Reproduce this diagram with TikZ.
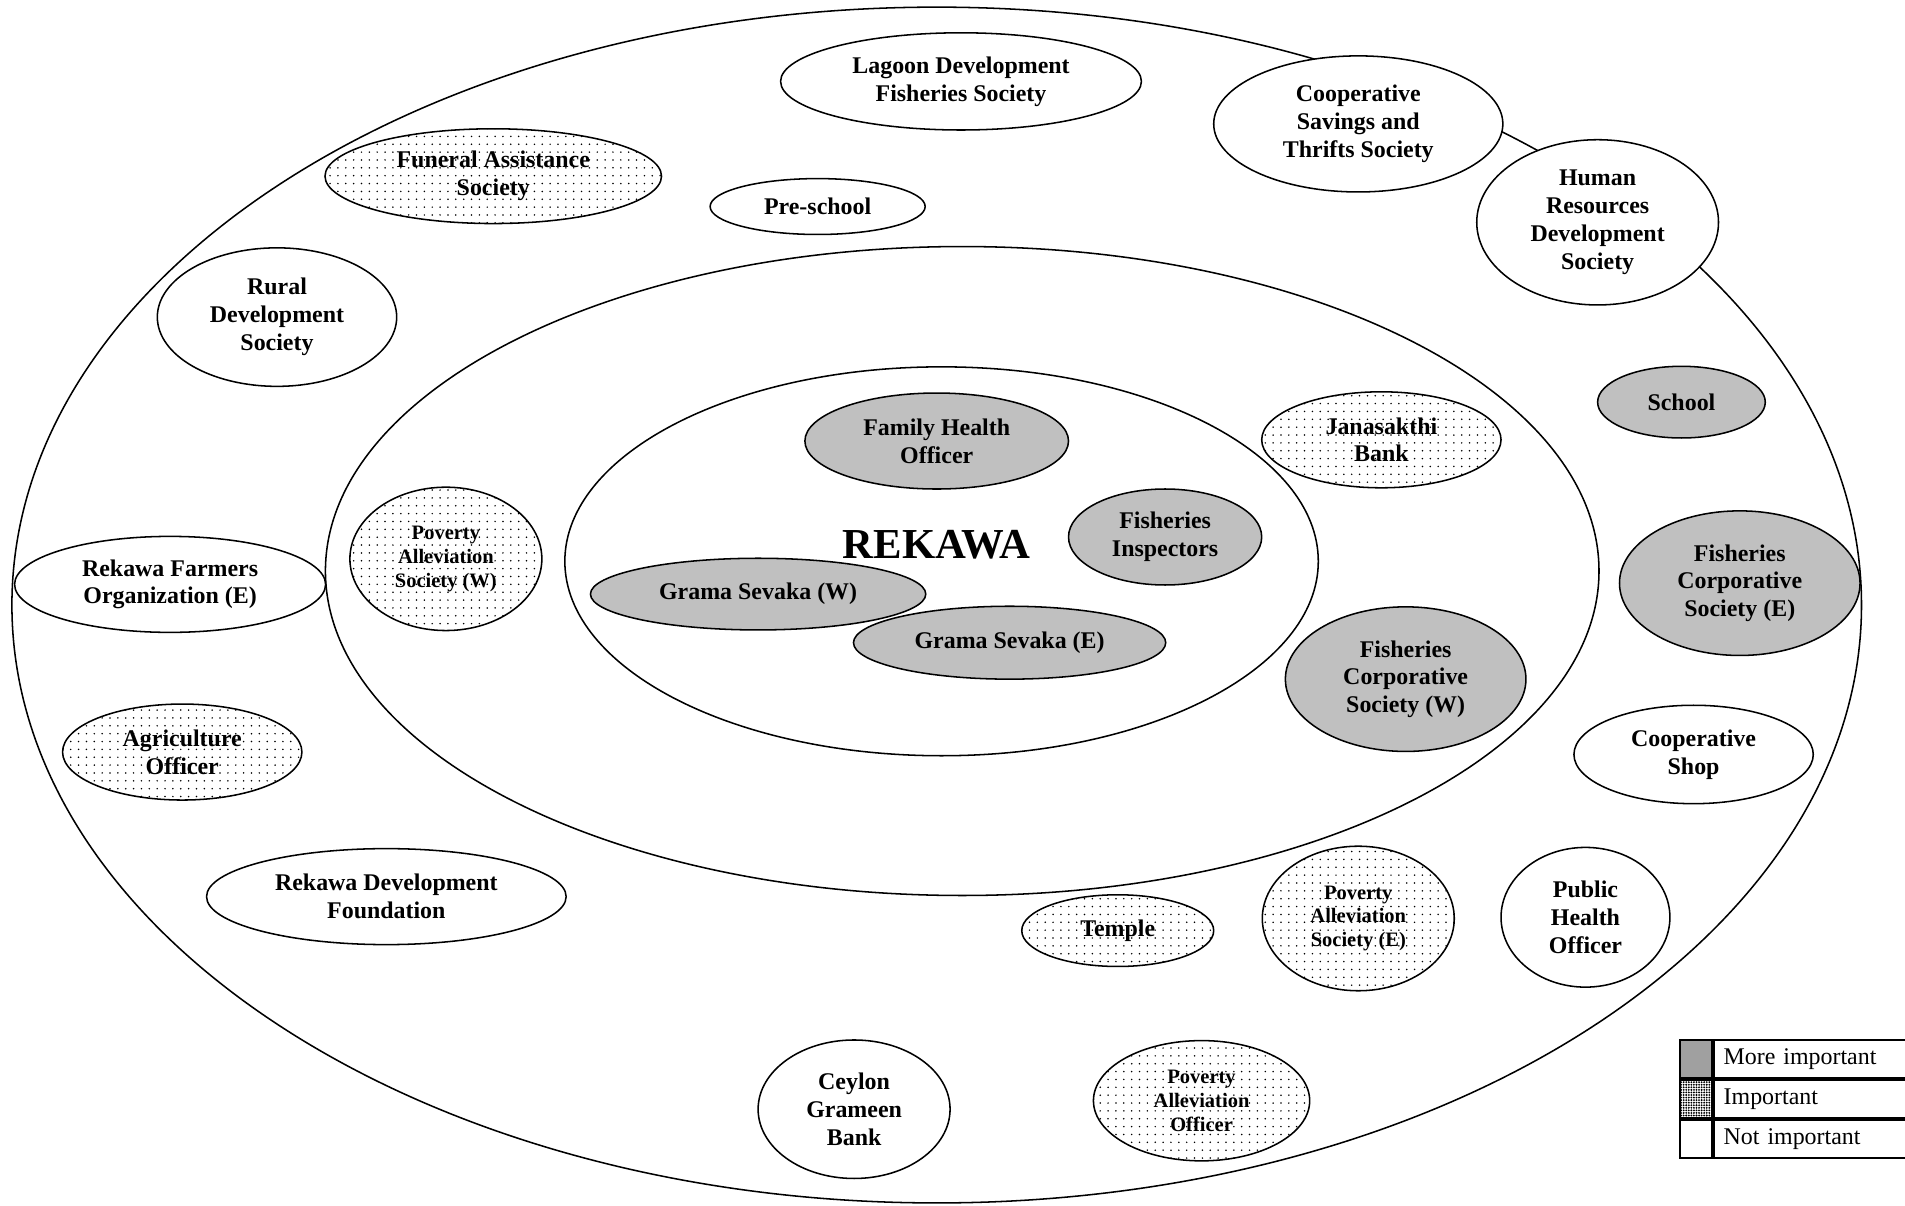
\documentclass[tikz,border=0pt]{standalone}
\usepackage{fontspec}
\setmainfont{Liberation Serif}
\usepackage{xcolor}
\usepackage{tikz}
\usetikzlibrary{shapes,positioning,patterns.meta}
\definecolor{orggray}{RGB}{192,192,192}
\definecolor{keygray}{RGB}{160,160,160}
\tikzset{
    wh/.style 2 args={minimum width=#1*0.025cm, minimum height=#2*0.025cm},
    orgbox/.style={ellipse, draw, line width=0.9pt, inner sep=0pt, align=center,
        font=\bfseries\fontsize{14}{16.3}\selectfont},
    plainbox/.style={orgbox, fill=white},
    morebox/.style={orgbox, fill=orggray},
    impbox/.style={orgbox, preaction={fill=white},
        pattern={Dots[distance=4.6pt, radius=0.5pt]}},
    smalltext/.style={font=\bfseries\fontsize{12}{14}\selectfont},
    keybox/.style={draw, line width=1.3pt, minimum height=0.78cm, inner sep=0pt}
}

\begin{document}
\begin{tikzpicture}[x=0.025cm, y=-0.025cm]
    \useasboundingbox (0,0) rectangle (1568,992);

    % rings
    \draw [line width=0.9pt] (771,498) ellipse [x radius=19.025cm, y radius=12.3cm];
    \draw [line width=0.9pt] (792,470) ellipse [x radius=13.1cm, y radius=6.675cm];
    \draw [line width=0.9pt] (775,462) ellipse [x radius=7.75cm, y radius=4cm];

    \node [font=\bfseries\fontsize{25}{30}\selectfont] (rekawa) at (771,448) {REKAWA};

    % outer ring
    \node [plainbox, wh={297}{80}] (lagoon) at (791,67) {Lagoon Development\\Fisheries Society};
    \node [plainbox, wh={238}{112}] (coopsav) at (1118,102) {Cooperative\\Savings and\\Thrifts Society};
    \node [plainbox, wh={199}{136}] (hrds) at (1315,183) {Human\\Resources\\Development\\Society};
    \node [impbox, wh={277}{78}] (funeral) at (406,145) {Funeral Assistance\\Society};
    \node [plainbox, wh={177}{46}] (preschool) at (673,170) {Pre-school};
    \node [plainbox, wh={197}{114}] (rural) at (228,261) {Rural\\Development\\Society};
    \node [morebox, wh={138}{59}] (school) at (1384,331) {School};
    \node [plainbox, wh={256}{79}] (farmers) at (140,481) {Rekawa Farmers\\Organization (E)};
    \node [morebox, wh={198}{119}] (fcse) at (1432,480) {Fisheries\\Corporative\\Society (E)};
    \node [impbox, wh={197}{79}] (agri) at (150,619) {Agriculture\\Officer};
    \node [plainbox, wh={197}{81}] (coopshop) at (1394,621) {Cooperative\\Shop};
    \node [plainbox, wh={296}{79}] (rdf) at (318,738) {Rekawa Development\\Foundation};
    \node [impbox, wh={158}{59}] (temple) at (920,766) {Temple};
    \node [impbox, smalltext, wh={158}{119}] (pase) at (1118,756) {Poverty\\Alleviation\\Society (E)};
    \node [plainbox, wh={139}{115}] (pho) at (1305,755) {Public\\Health\\Officer};
    \node [plainbox, wh={158}{114}] (ceylon) at (703,913) {Ceylon\\Grameen\\Bank};
    \node [impbox, smalltext, wh={178}{99}] (pao) at (989,906) {Poverty\\Alleviation\\Officer};

    % middle ring
    \node [impbox, wh={197}{79}] (janasakthi) at (1137,362) {Janasakthi\\Bank};
    \node [impbox, smalltext, wh={158}{118}] (pasw) at (367,460) {Poverty\\Alleviation\\Society (W)};
    \node [morebox, wh={198}{119}] (fcsw) at (1157,559) {Fisheries\\Corporative\\Society (W)};

    % inner ring
    \node [morebox, wh={217}{79}] (fho) at (771,363) {Family Health\\Officer};
    \node [morebox, wh={159}{79}] (fishinsp) at (959,442) {Fisheries\\Inspectors};
    \node [morebox, wh={276}{59}] (gsw) at (624,489) {Grama Sevaka (W)};
    \node [morebox, wh={257}{60}] (gse) at (831,529) {Grama Sevaka (E)};

    % key
    \node [keybox, minimum width=0.65cm, anchor=north west, fill=keygray] (keymore) at (1382,855) {};
    \node [keybox, minimum width=0.65cm, below=0pt of keymore, pattern={Dots[distance=1.5pt, radius=0.6pt]}] (keyimp) {};
    \node [keybox, minimum width=0.65cm, below=0pt of keyimp] (keynot) {};
    \node [keybox, minimum width=4.1cm, right=0pt of keymore, align=left, text width=3.7cm,
        font=\fontsize{14}{16}\selectfont] (txtmore) {More important};
    \node [keybox, minimum width=4.1cm, right=0pt of keyimp, align=left, text width=3.7cm,
        font=\fontsize{14}{16}\selectfont] (txtimp) {Important};
    \node [keybox, minimum width=4.1cm, right=0pt of keynot, align=left, text width=3.7cm,
        font=\fontsize{14}{16}\selectfont] (txtnot) {Not important};
\end{tikzpicture}
\end{document}
